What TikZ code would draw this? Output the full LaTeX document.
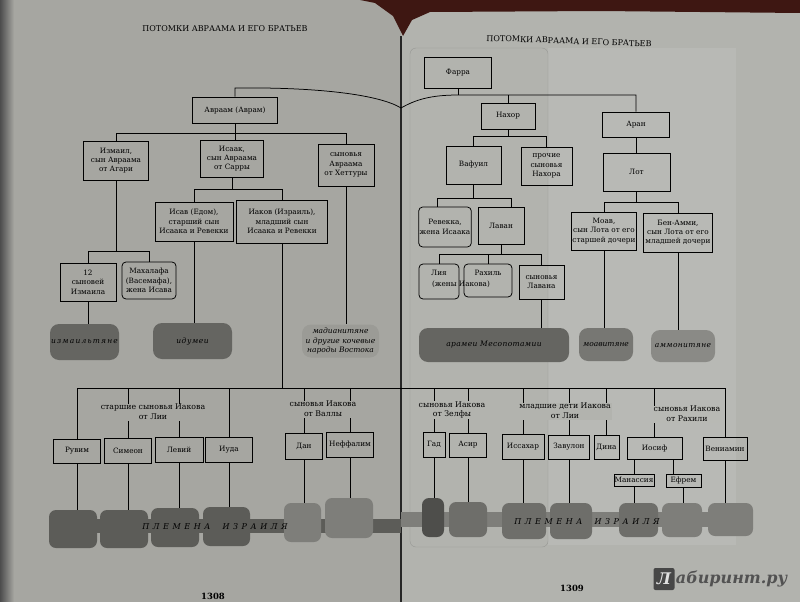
\documentclass[tikz,border=0pt]{standalone}
\usepackage{fontspec}
\setmainfont{DejaVu Serif}
\usetikzlibrary{calc}
\definecolor{pageL}{HTML}{A6A6A1}
\definecolor{pageR}{HTML}{B2B3AE}
\definecolor{topdark}{HTML}{3E1712}
\definecolor{trDark}{HTML}{5C5C58}
\definecolor{trMid}{HTML}{6E6E6A}
\definecolor{trLight}{HTML}{7E7E7A}
\definecolor{pillDark}{HTML}{656561}
\definecolor{pillMid}{HTML}{777773}
\definecolor{pillLight}{HTML}{8A8A86}
\definecolor{pillPale}{HTML}{9B9B96}
\begin{document}
\begin{tikzpicture}[x=1pt,y=-1pt]
\tikzset{
  bx/.style={draw, line width=0.75pt, align=center, inner sep=1pt, font=\fontsize{7.3}{9.4}\selectfont},
  rbx/.style={bx, rounded corners=4pt},
  pill/.style={rounded corners=9pt, align=center, inner sep=1pt, font=\fontsize{7.5}{9.4}\selectfont\itshape},
  tribe/.style={rounded corners=7pt, inner sep=0pt},
  lbl/.style={align=center, inner sep=0.8pt, font=\fontsize{7.8}{9.6}\selectfont},
  txt/.style={inner sep=0pt, font=\fontsize{7.3}{9.4}\selectfont},
  ln/.style={line width=0.75pt},
  hdr/.style={inner sep=0pt, font=\fontsize{8}{9}\selectfont},
  pnum/.style={inner sep=0pt, font=\fontsize{8.5}{9}\selectfont\bfseries},
  tribetext/.style={inner sep=0pt, font=\fontsize{8}{9}\selectfont\itshape},
}
\useasboundingbox (0,0) rectangle (800,602);
% ---------- background ----------
\fill[pageL] (0,0) rectangle (401,602);
\fill[pageR] (401,0) rectangle (800,602);
\shade[left color=black!70, right color=pageL] (0,0) rectangle (14,602);
\fill[topdark] (360,0) -- (800,0) -- (800,13) -- (600,11) -- (430,12) -- (412,20) -- (403,36) -- (393,16) -- (375,3) -- cycle;
\fill[pageR!92!white] (548,48) rectangle (736,545);
\draw[pageR!85!black, line width=0.4pt, rounded corners=6pt] (410,48) rectangle (548,547);
\draw[black!85, line width=2pt] (401,36) -- (401,602);
% ---------- headers ----------
\node[hdr] (hL) at (225,29) {ПОТОМКИ АВРААМА И ЕГО БРАТЬЕВ};
\node[hdr, rotate=-2] (hR) at (569,41) {ПОТОМКИ АВРААМА И ЕГО БРАТЬЕВ};
% ---------- left page boxes ----------
\node[bx, minimum width=85, minimum height=26] (abr) at (235,110) {Авраам (Аврам)};
\node[bx, minimum width=65, minimum height=39] (izm) at (116,160.5) {Измаил,\\сын Авраама\\от Агари};
\node[bx, minimum width=63, minimum height=37] (isaak) at (232,158.5) {Исаак,\\сын Авраама\\от Сарры};
\node[bx, minimum width=56, minimum height=42] (het) at (346,165) {сыновья\\Авраама\\от Хеттуры};
\node[bx, minimum width=78, minimum height=39] (isav) at (194,221.5) {Исав (Едом),\\старший сын\\Исаака и Ревекки};
\node[bx, minimum width=91, minimum height=43] (iakov) at (282,221.5) {Иаков (Израиль),\\младший сын\\Исаака и Ревекки};
\node[bx, minimum width=56, minimum height=38] (s12) at (88,282) {12\\сыновей\\Измаила};
\node[rbx, minimum width=54, minimum height=37] (mah) at (149,280.5) {Махалафа\\(Васемафа),\\жена Исава};
\node[pill, fill=pillDark, minimum width=69, minimum height=36] (pizm) at (84.5,342) {\addfontfeatures{LetterSpace=16}измаильтяне};
\node[pill, fill=pillDark, minimum width=79, minimum height=36] (pidu) at (192.5,341) {\addfontfeatures{LetterSpace=8}идумеи};
\node[pill, fill=pillPale, minimum width=77, minimum height=33] (pmad) at (340.5,341) {мадианитяне\\и другие кочевые\\народы Востока};
% ---------- right page boxes ----------
\node[bx, minimum width=67, minimum height=31] (far) at (458,72.5) {Фарра};
\node[bx, minimum width=54, minimum height=26] (nah) at (508,116) {Нахор};
\node[bx, minimum width=67, minimum height=25] (aran) at (636,124.5) {Аран};
\node[bx, minimum width=55, minimum height=38] (vaf) at (473.5,165) {Вафуил};
\node[bx, minimum width=51, minimum height=38] (proch) at (546.5,166) {прочие\\сыновья\\Нахора};
\node[bx, minimum width=67, minimum height=38] (lot) at (636.5,172) {Лот};
\node[rbx, minimum width=52, minimum height=40] (reb) at (445,227) {Ревекка,\\жена Исаака};
\node[bx, minimum width=46, minimum height=37] (lav) at (501,225.5) {Лаван};
\node[rbx, minimum width=40, minimum height=35] (liya) at (439,281.5) {};
\node[rbx, minimum width=48, minimum height=33] (rah) at (488,280.5) {};
\node[txt] (liyaT) at (439,273) {Лия};
\node[txt] (rahT) at (488,273) {Рахиль};
\node[txt] (zheny) at (461,284) {(жены Иакова)};
\node[bx, minimum width=45, minimum height=34] (synlav) at (541.5,282) {сыновья\\Лавана};
\node[bx, minimum width=64, minimum height=38] (moav) at (604,231) {Моав,\\сын Лота от его\\старшей дочери};
\node[bx, minimum width=69, minimum height=39] (ben) at (678,232.5) {Бен-Амми,\\сын Лота от его\\младшей дочери};
\node[pill, fill=pillDark, minimum width=150, minimum height=34] (param) at (494,345) {\addfontfeatures{LetterSpace=5}арамеи Месопотамии};
\node[pill, fill=pillMid, minimum width=54, minimum height=33] (pmoav) at (606,344.5) {моавитяне};
\node[pill, fill=pillLight, minimum width=64, minimum height=32] (pamm) at (683,346) {\addfontfeatures{LetterSpace=5}аммонитяне};
% ---------- sons of Jacob ----------
\node[bx, minimum width=47, minimum height=24] (ruv) at (77,451) {Рувим};
\node[bx, minimum width=47, minimum height=25] (sim) at (128,450.5) {Симеон};
\node[bx, minimum width=48, minimum height=25] (lev) at (179,449.5) {Левий};
\node[bx, minimum width=47, minimum height=25] (iuda) at (229,449.5) {Иуда};
\node[bx, minimum width=37, minimum height=26] (dan) at (304,446) {Дан};
\node[bx, minimum width=47, minimum height=25] (nef) at (350,444.5) {Неффалим};
\node[bx, minimum width=22, minimum height=25] (gad) at (434,444.5) {Гад};
\node[bx, minimum width=37, minimum height=24] (asir) at (468,445) {Асир};
\node[bx, minimum width=42, minimum height=25] (iss) at (523,446.5) {Иссахар};
\node[bx, minimum width=41, minimum height=24] (zav) at (569,447) {Завулон};
\node[bx, minimum width=25, minimum height=24] (dina) at (606.5,447) {Дина};
\node[bx, minimum width=55, minimum height=22] (ios) at (654.5,448) {Иосиф};
\node[bx, minimum width=44, minimum height=23] (ven) at (725,448.5) {Вениамин};
\node[bx, minimum width=40, minimum height=12, inner sep=0pt] (man) at (634,480) {Манассия};
\node[bx, minimum width=35, minimum height=13, inner sep=0pt] (efr) at (683.5,480.5) {Ефрем};
% ---------- tribes ----------
\fill[trDark] (60,519) rectangle (401,533);
\fill[trLight] (401,512) rectangle (745,527);
\node[tribe, fill=trDark, minimum width=48, minimum height=38] (truv) at (73,529) {};
\node[tribe, fill=trDark, minimum width=48, minimum height=38] (tsim) at (124,529) {};
\node[tribe, fill=trDark, minimum width=48, minimum height=39] (tlev) at (175,527.5) {};
\node[tribe, fill=trDark, minimum width=47, minimum height=39] (tiuda) at (226.5,526.5) {};
\node[tribe, fill=trLight, minimum width=37, minimum height=39] (tdan) at (302.5,522.5) {};
\node[tribe, fill=trLight, minimum width=48, minimum height=40] (tnef) at (349,518) {};
\node[tribe, fill=trDark!85!black, minimum width=22, minimum height=39] (tgad) at (433,517.5) {};
\node[tribe, fill=trMid, minimum width=38, minimum height=35] (tasir) at (468,519.5) {};
\node[tribe, fill=trMid, minimum width=44, minimum height=36] (tiss) at (524,521) {};
\node[tribe, fill=trMid, minimum width=42, minimum height=36] (tzav) at (571,521) {};
\node[tribe, fill=trMid, minimum width=39, minimum height=34] (tman) at (638.5,520) {};
\node[tribe, fill=trLight, minimum width=40, minimum height=34] (tefr) at (682,520) {};
\node[tribe, fill=trLight, minimum width=45, minimum height=33] (tven) at (730.5,519.5) {};
\node[tribetext] (plL) at (215,527) {\addfontfeatures{LetterSpace=45}ПЛЕМЕНА\hspace{12pt}ИЗРАИЛЯ};
\node[tribetext] (plR) at (587,522) {\addfontfeatures{LetterSpace=45}ПЛЕМЕНА\hspace{12pt}ИЗРАИЛЯ};
% ---------- connector coordinates ----------
\coordinate (topL) at (0,88);
\coordinate (fbus) at (0,95);
\coordinate (spinept) at (401,108);
\coordinate (abus) at (0,133);
\coordinate (ibus) at (0,189);
\coordinate (zbus) at (0,251);
\coordinate (jbus) at (0,388);
\coordinate (nbus) at (0,136);
\coordinate (vbus) at (0,198);
\coordinate (lbus) at (0,254);
\coordinate (obus) at (0,202);
\coordinate (rebTop) at (437,207);
\coordinate (lavTop) at (511,207);
\coordinate (efrTop) at (673,474);
% ---------- connectors ----------
\draw[ln] (abr.north) -- (abr.north |- topL) .. controls (320,87) and (380,95) .. (spinept)
   .. controls (415,100) and (430,95) .. (far.south |- fbus) -- (aran.north |- fbus) -- (aran.north);
\draw[ln] (far.south) -- (far.south |- fbus);
\draw[ln] (nah.north |- fbus) -- (nah.north);
\draw[ln] (izm.north) |- (het.north |- abus) -- (het.north);
\draw[ln] (abr.south) -- (abr.south |- isaak.north);
\draw[ln] (isaak.south) -- (isaak.south |- ibus);
\draw[ln] (isav.north) |- (iakov.north |- ibus) -- (iakov.north);
\draw[ln] (izm.south) -- (izm.south |- zbus);
\draw[ln] (s12.north) |- (mah.north |- zbus) -- (mah.north);
\draw[ln] (s12.south) -- (s12.south |- pizm.north);
\draw[ln] (isav.south) -- (isav.south |- pidu.north);
\draw[ln] (het.south) -- (het.south |- pmad.north);
\draw[ln] (iakov.south) -- (iakov.south |- jbus);
\draw[ln] (ruv.north) |- (ven.north |- jbus) -- (ven.north);
\foreach \n in {sim,lev,iuda,dan,nef,gad,asir,iss,zav,dina,ios}
  \draw[ln] (\n.north) -- (\n.north |- jbus);
\foreach \a/\b in {ruv/truv,sim/tsim,lev/tlev,iuda/tiuda,dan/tdan,nef/tnef,gad/tgad,asir/tasir,iss/tiss,zav/tzav,ven/tven,man/tman,efr/tefr}
  \draw[ln] (\a.south) -- (\a.south |- \b.north);
\draw[ln] (ios.south -| man.north) -- (man.north);
\draw[ln] (ios.south -| efrTop) -- (efrTop);
\draw[ln] (nah.south) -- (nah.south |- nbus);
\draw[ln] (vaf.north) |- (proch.north |- nbus) -- (proch.north);
\draw[ln] (aran.south) -- (aran.south |- lot.north);
\draw[ln] (vaf.south) -- (vaf.south |- vbus);
\draw[ln] (rebTop) |- (lavTop |- vbus) -- (lavTop);
\draw[ln] (lav.south) -- (lav.south |- lbus);
\draw[ln] (liya.north) |- (synlav.north |- lbus) -- (synlav.north);
\draw[ln] (rah.north) -- (rah.north |- lbus);
\draw[ln] (synlav.south) -- (synlav.south |- param.north);
\draw[ln] (lot.south) -- (lot.south |- obus);
\draw[ln] (moav.north) |- (ben.north |- obus) -- (ben.north);
\draw[ln] (moav.south) -- (moav.south |- pmoav.north);
\draw[ln] (ben.south) -- (ben.south |- pamm.north);
% ---------- group labels ----------
\node[lbl, fill=pageL] (lab1) at (153,412) {старшие сыновья Иакова\\от Лии};
\node[lbl, fill=pageL] (lab2) at (323,409) {сыновья Иакова\\от Валлы};
\node[lbl, fill=pageR] (lab3) at (452,410) {сыновья Иакова\\от Зелфы};
\node[lbl, fill=pageR] (lab4) at (565,411) {младшие дети Иакова\\от Лии};
\node[lbl, fill=pageR!92!white] (lab5) at (687,414) {сыновья Иакова\\от Рахили};
% ---------- page numbers and mark ----------
\node[pnum] (n1308) at (213,596) {1308};
\node[pnum] (n1309) at (572,588) {1309};
\node[fill=black!72, rounded corners=2pt, text=black!12, inner sep=0pt, minimum width=21, minimum height=22,
      font=\fontsize{16}{16}\selectfont\bfseries\itshape] (wmL) at (664,579) {Л};
\node[anchor=west, text=black!68, inner sep=0pt, xshift=1pt,
      font=\fontsize{16}{16}\selectfont\bfseries\itshape] (wm) at (wmL.east) {абиринт.ру};
\end{tikzpicture}
\end{document}
